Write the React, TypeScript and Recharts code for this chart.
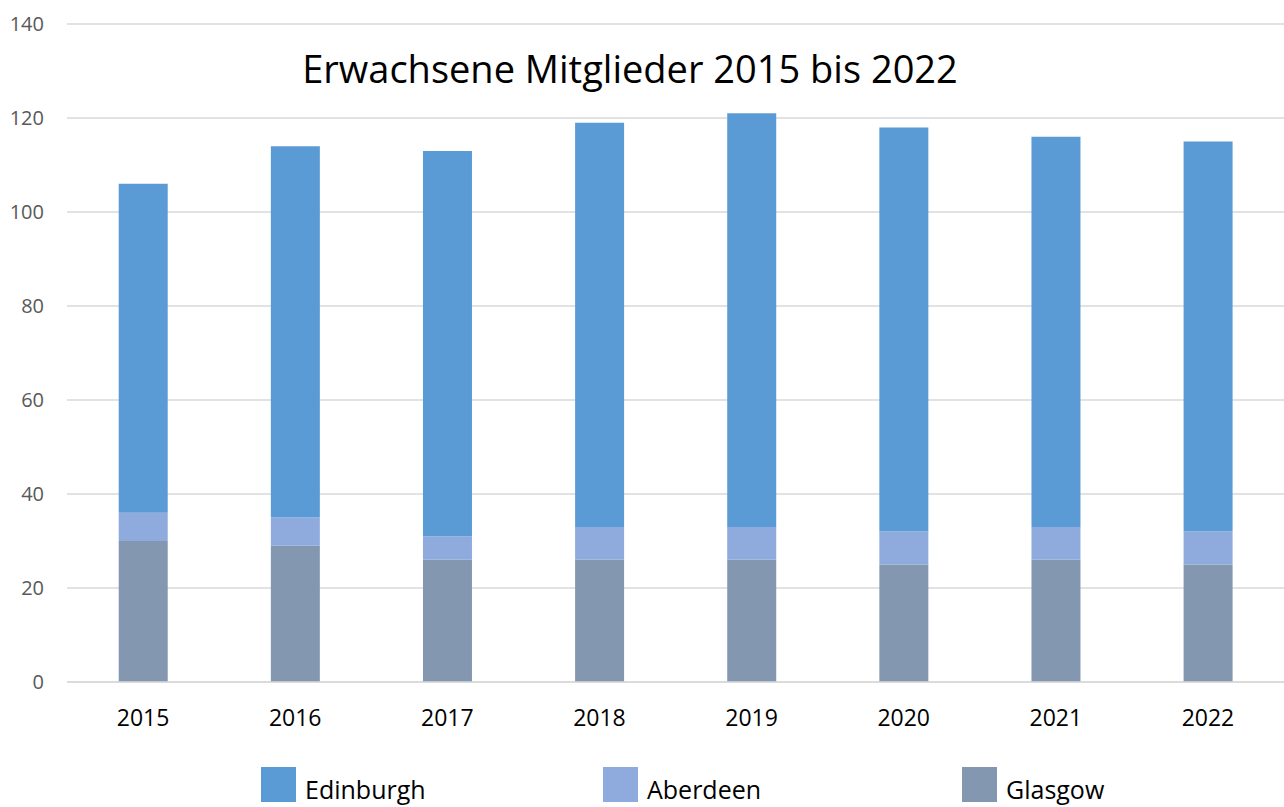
import React from "react";
import { BarChart, Bar, XAxis, YAxis, CartesianGrid, Legend } from "recharts";

const years = ["2015", "2016", "2017", "2018", "2019", "2020", "2021", "2022"];
const glasgow = [30, 29, 26, 26, 26, 25, 26, 25];
const aberdeen = [6, 6, 5, 7, 7, 7, 7, 7];
const edinburgh = [70, 79, 82, 86, 88, 86, 83, 83];
const yTicks = [0, 20, 40, 60, 80, 100, 120, 140];
const title = "Erwachsene Mitglieder 2015 bis 2022";

const seriesNames = ["Edinburgh", "Aberdeen", "Glasgow"];
const seriesColors: Record<string, string> = {
  Edinburgh: "#5B9BD5",
  Aberdeen: "#8FAADC",
  Glasgow: "#8497B0",
};
const legendItemWidths = [342, 359, 300];

const data = years.map((y, i) => ({
  year: y,
  Glasgow: glasgow[i],
  Aberdeen: aberdeen[i],
  Edinburgh: edinburgh[i],
}));

const FONT = "'Open Sans', sans-serif";

const LegendContent = () => (
  <div style={{ display: "flex", paddingLeft: 261, fontFamily: FONT }}>
    {seriesNames.map((name, i) => (
      <div key={name} style={{ width: legendItemWidths[i], display: "flex", alignItems: "flex-end", height: 40 }}>
        <div style={{ width: 35, height: 35, background: seriesColors[name], marginRight: 9 }} />
        <span style={{ fontSize: 25, color: "#000", lineHeight: "26px" }}>{name}</span>
      </div>
    ))}
  </div>
);

export default function App() {
  return (
    <div style={{ position: "absolute", left: 0, top: 0, width: 1284, height: 807, background: "#fff" }}>
      <BarChart
        width={1284}
        height={807}
        data={data}
        margin={{ top: 24, right: 0, bottom: 0, left: 0 }}
        barCategoryGap="34%"
      >
        <CartesianGrid vertical={false} stroke="#d9d9d9" strokeWidth={1.5} />
        <YAxis
          width={67}
          domain={[0, 140]}
          ticks={yTicks}
          axisLine={false}
          tickLine={false}
          tickSize={0}
          tickMargin={23}
          tick={{ fill: "#595959", fontSize: 20, fontFamily: FONT }}
        />
        <XAxis
          dataKey="year"
          height={80}
          axisLine={{ stroke: "#d9d9d9", strokeWidth: 1.5 }}
          tickLine={false}
          tickSize={0}
          tickMargin={28}
          tick={{ fill: "#000", fontSize: 23, fontFamily: FONT }}
        />
        <Legend verticalAlign="bottom" height={45} content={<LegendContent />} />
        <Bar dataKey="Glasgow" stackId="a" fill={seriesColors.Glasgow} isAnimationActive={false} />
        <Bar dataKey="Aberdeen" stackId="a" fill={seriesColors.Aberdeen} isAnimationActive={false} />
        <Bar dataKey="Edinburgh" stackId="a" fill={seriesColors.Edinburgh} isAnimationActive={false} />
      </BarChart>
      <div
        style={{
          position: "absolute",
          left: 0,
          top: 42,
          width: 1260,
          textAlign: "center",
          fontFamily: FONT,
          fontSize: 38,
          color: "#000",
          pointerEvents: "none",
        }}
      >
        {title}
      </div>
    </div>
  );
}
